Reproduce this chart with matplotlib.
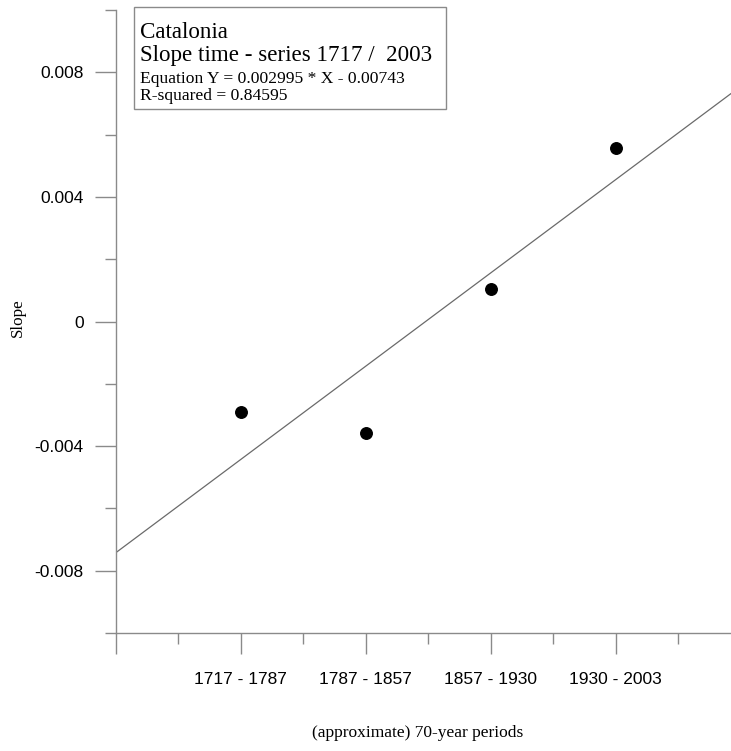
import matplotlib
matplotlib.use("Agg")
import matplotlib.pyplot as plt
from matplotlib.ticker import FixedLocator, NullFormatter

# Period slopes for Catalonia
periods = ["1717 - 1787", "1787 - 1857", "1857 - 1930", "1930 - 2003"]
period_index = [1, 2, 3, 4]
slopes = [-0.0029, -0.00357, 0.00105, 0.00557]

# Linear fit reported in the box
fit_slope = 0.002995
fit_intercept = -0.00743
r_squared = 0.84595

y_major = [-0.008, -0.004, 0.0, 0.004, 0.008]
y_major_labels = ["-0.008", "-0.004", "0", "0.004", "0.008"]
y_minor = [-0.010, -0.006, -0.002, 0.002, 0.006, 0.010]
x_minor = [0.5, 1.5, 2.5, 3.5, 4.5]

W, H = 731, 751
fig = plt.figure(figsize=(W / 100, H / 100), dpi=100)
left = 115.5 / W
bottom = (H - 633) / H
top = (H - 10) / H
right = 740.5 / W
ax = fig.add_axes([left, bottom, right - left, top - bottom])
ax.set_xlim(0, 5)
ax.set_ylim(-0.010, 0.010)

spine_col = "#8a8a8a"
for s in ["top", "right"]:
    ax.spines[s].set_visible(False)
for s in ["left", "bottom"]:
    ax.spines[s].set_color(spine_col)
    ax.spines[s].set_linewidth(1.0)

# regression line across the x range
xs = [0, 5]
ys = [fit_slope * x + fit_intercept for x in xs]
ax.plot(xs, ys, color="#6a6a6a", lw=0.9, clip_on=True, zorder=2)

# period slope points
ax.plot(period_index, slopes, "o", color="black", ms=8.3, zorder=3)

# ticks
ax.xaxis.set_major_locator(FixedLocator([0] + period_index))
ax.set_xticklabels([""] + periods, fontsize=12.5, family="Liberation Sans")
ax.xaxis.set_minor_locator(FixedLocator(x_minor))
ax.xaxis.set_minor_formatter(NullFormatter())
ax.yaxis.set_major_locator(FixedLocator(y_major))
ax.set_yticklabels(y_major_labels, fontsize=12.5, family="Liberation Sans")
ax.yaxis.set_minor_locator(FixedLocator(y_minor))
ax.yaxis.set_minor_formatter(NullFormatter())

ax.tick_params(axis="both", which="major", direction="out", length=15,
               width=1.0, color=spine_col)
ax.tick_params(axis="both", which="minor", direction="out", length=8,
               width=1.0, color=spine_col)
ax.tick_params(axis="x", which="major", pad=13)
ax.tick_params(axis="y", which="major", pad=8)

# the zero tick mark is barely visible
for t in ax.yaxis.get_major_ticks():
    if abs(t.get_loc()) < 1e-12:
        t.tick1line.set_color("#f0f0f0")

fig.text(18 / W, 1 - 318 / H, "Slope", rotation=90, ha="center", va="center",
         fontsize=12.3, family="Liberation Serif")
fig.text(418 / W, 1 - 733 / H, "(approximate) 70-year periods", ha="center",
         va="center", fontsize=12.5, family="Liberation Serif")

# info box
box = plt.Rectangle((133.5 / W, 1 - 108.5 / H), (446 - 133.5) / W,
                    (108.5 - 7) / H, transform=fig.transFigure,
                    facecolor="white", edgecolor="#8a8a8a", lw=1.0, zorder=5)
fig.add_artist(box)
tx = 140 / W
fig.text(tx, 1 - 38.5 / H, "Catalonia", fontsize=16.6, family="Liberation Serif",
         va="baseline", zorder=6)
fig.text(tx, 1 - 61.5 / H, "Slope time - series 1717 /  2003", fontsize=16.6,
         family="Liberation Serif", va="baseline", zorder=6)
fig.text(tx, 1 - 83 / H,
         f"Equation Y = {fit_slope:.6f} * X - {abs(fit_intercept):.5f}",
         fontsize=12.6, family="Liberation Serif", va="baseline", zorder=6)
fig.text(tx, 1 - 100.5 / H, f"R-squared = {r_squared:.5f}", fontsize=12.6,
         family="Liberation Serif", va="baseline", zorder=6)

fig.savefig("out.png", dpi=100)
